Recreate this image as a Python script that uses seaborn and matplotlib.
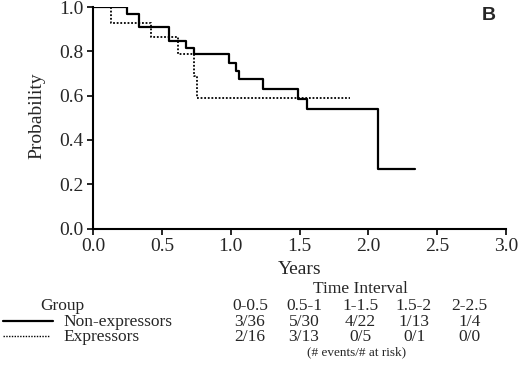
"""Kaplan-Meier style survival curves, panel B: expressors vs non-expressors."""

import numpy as np
import pandas as pd
import matplotlib
matplotlib.use("Agg")
import matplotlib.pyplot as plt
import seaborn as sns

# step curves (time in years, survival probability)
non_time = [0.0, 0.247, 0.332, 0.552, 0.674, 0.732, 0.988, 1.035, 1.059, 1.236, 1.490, 1.551, 2.071, 2.338]
non_surv = [1.0, 0.967, 0.908, 0.848, 0.813, 0.786, 0.749, 0.712, 0.675, 0.630, 0.586, 0.541, 0.270, 0.270]
exp_time = [0.0, 0.129, 0.419, 0.613, 0.732, 0.756, 1.866]
exp_surv = [1.0, 0.928, 0.863, 0.786, 0.688, 0.589, 0.589]

# risk table below the plot
intervals = ["0-0.5", "0.5-1", "1-1.5", "1.5-2", "2-2.5"]
non_counts = ["3/36", "5/30", "4/22", "1/13", "1/4"]
exp_counts = ["2/16", "3/13", "0/5", "0/1", "0/0"]
group_names = ["Non-expressors", "Expressors"]

x_ticks = [0.0, 0.5, 1.0, 1.5, 2.0, 2.5, 3.0]
y_ticks = [0.0, 0.2, 0.4, 0.6, 0.8, 1.0]

sns.set_style("ticks")
plt.rcParams["font.family"] = ["Liberation Serif", "DejaVu Serif"]
plt.rcParams["xtick.direction"] = "out"
plt.rcParams["ytick.direction"] = "out"

W, H = 520, 369
fig = plt.figure(figsize=(W / 100, H / 100), dpi=100)
left, right, top, bottom = 93.3, 506, 7, 228.5
ax = fig.add_axes([left / W, 1 - bottom / H, (right - left) / W, (bottom - top) / H])

curves = pd.concat(
    [
        pd.DataFrame({"time": non_time, "surv": non_surv, "group": group_names[0]}),
        pd.DataFrame({"time": exp_time, "surv": exp_surv, "group": group_names[1]}),
    ],
    ignore_index=True,
)

sns.lineplot(data=curves[curves["group"] == group_names[0]], x="time", y="surv",
             estimator=None, sort=False, drawstyle="steps-post",
             color="black", linewidth=1.6, ax=ax)
sns.lineplot(data=curves[curves["group"] == group_names[1]], x="time", y="surv",
             estimator=None, sort=False, drawstyle="steps-post",
             color="black", linewidth=1.3, linestyle=(0, (1, 1)), ax=ax)

ax.set_xlim(0, 3.0)
ax.set_ylim(0, 1.0)
ax.set_xticks(x_ticks)
ax.set_yticks(y_ticks)
ax.set_xticklabels([f"{v:.1f}" for v in x_ticks])
ax.set_yticklabels([f"{v:.1f}" for v in y_ticks])
ax.tick_params(labelsize=14, length=4, width=1.2, color="black", pad=3)
for side in ["top", "right"]:
    ax.spines[side].set_visible(False)
for side in ["left", "bottom"]:
    ax.spines[side].set_linewidth(1.5)
    ax.spines[side].set_color("black")

ax.set_xlabel("")
ax.set_ylabel("")


def px_text(x, y, s, **kw):
    fig.text(x / W, 1 - y / H, s, **kw)


px_text(37, 116, "Probability", rotation=90, ha="center", va="center", fontsize=14)
px_text(300, 269, "Years", ha="center", va="center", fontsize=14)
px_text(489, 16, "B", ha="center", va="center", fontsize=14, fontweight="bold",
        family=["Liberation Sans", "DejaVu Sans"])

# risk table
fs = 12.5
px_text(360, 289, "Time Interval", ha="center", va="center", fontsize=fs)
px_text(62, 306, "Group", ha="center", va="center", fontsize=fs)
col_x = [250, 304, 360.5, 414, 469.5]
row_y = [306, 322, 337]
for cx, lab, n, e in zip(col_x, intervals, non_counts, exp_counts):
    px_text(cx, row_y[0], lab, ha="center", va="center", fontsize=fs)
    px_text(cx, row_y[1], n, ha="center", va="center", fontsize=fs)
    px_text(cx, row_y[2], e, ha="center", va="center", fontsize=fs)
px_text(63, row_y[1], group_names[0], ha="left", va="center", fontsize=fs)
px_text(63, row_y[2], group_names[1], ha="left", va="center", fontsize=fs)
px_text(357, 352, "(# events/# at risk)", ha="center", va="center", fontsize=9.5)

fig.add_artist(plt.Line2D([3 / W, 53 / W], [1 - 321 / H, 1 - 321 / H], color="black", linewidth=1.6))
fig.add_artist(plt.Line2D([3 / W, 50 / W], [1 - 336 / H, 1 - 336 / H], color="black",
                          linewidth=1.0, linestyle=(0, (1, 1))))

fig.savefig("out.png", dpi=100)
